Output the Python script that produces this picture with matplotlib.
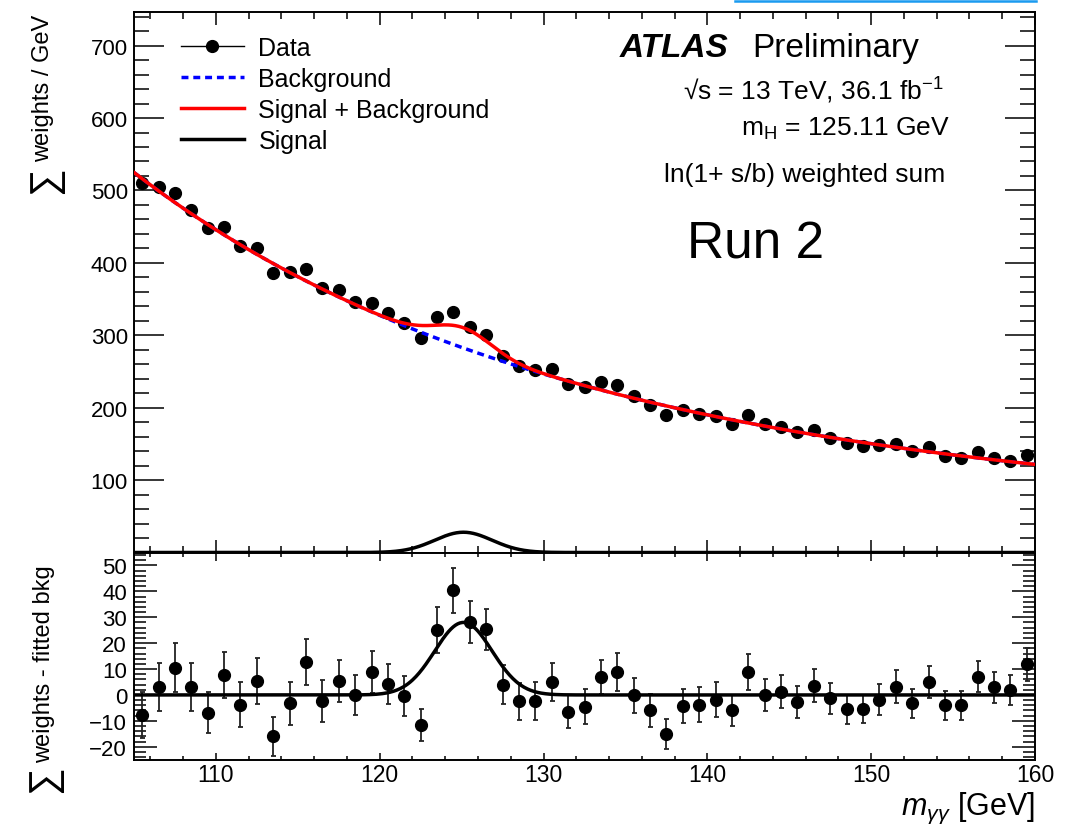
import numpy as np
import matplotlib
matplotlib.use("Agg")
import matplotlib.pyplot as plt
from matplotlib.ticker import MultipleLocator
from matplotlib.lines import Line2D

# ---------------- data ----------------
mass_bins = np.arange(105.5, 160.0, 1.0)   # 1 GeV bin centres

data_weights = [510, 505, 496, 473, 448, 450, 423, 420, 386, 387,
                392, 365, 363, 346, 345, 331, 317, 296, 325, 332,
                312, 301, 271, 258, 252, 253, 233, 229, 235, 231,
                216, 204, 190, 197, 191, 188, 178, 190, 177, 174,
                166, 169, 158, 151, 147, 148, 150, 140, 146, 133,
                130, 139, 131, 126, 134]

residuals = [-7.7, 3.1, 10.5, 3.1, -6.8, 7.7, -3.8, 5.4, -16.0, -3.3,
             12.6, -2.4, 5.4, 0.0, 8.8, 4.2, -0.5, -11.7, 25.1, 40.4,
             28.1, 25.4, 4.0, -2.5, -2.2, 4.9, -6.4, -4.5, 6.9, 9.0,
             -0.1, -6.0, -15.1, -4.3, -3.7, -1.8, -6.0, 8.8, -0.1, 1.3,
             -2.7, 3.6, -1.2, -5.6, -5.4, -1.8, 3.2, -3.2, 5.0, -4.0,
             -4.0, 7.1, 3.0, 1.9, 11.8]

residual_err = [9.0, 9.4, 9.4, 9.2, 8.0, 9.0, 8.7, 8.8, 7.5, 8.3,
                8.9, 8.0, 8.1, 7.8, 8.0, 7.8, 7.8, 6.2, 8.8, 8.7,
                8.2, 7.9, 7.4, 7.1, 7.3, 7.4, 6.3, 6.9, 6.7, 7.3,
                6.7, 6.3, 5.8, 6.7, 6.7, 6.7, 6.0, 6.9, 6.2, 6.3,
                6.3, 6.5, 6.0, 5.5, 5.5, 6.0, 6.3, 5.6, 6.2, 5.5,
                5.6, 6.1, 6.0, 5.9, 6.3]

# fitted model parameters: ln(bkg) = p0 + p1*(m-105) + p2*(m-105)^2 ; signal Gaussian
bkg_p0, bkg_p1, bkg_p2 = 6.263, -0.03327, 0.0001217
sig_amp, sig_mean, sig_sigma = 28.0, 125.11, 1.75

legend_labels = ["Data", "Background", "Signal + Background", "Signal"]

# ---------------- style ----------------
plt.rcParams["font.family"] = ["Liberation Sans", "DejaVu Sans"]
plt.rcParams["mathtext.fontset"] = "custom"
plt.rcParams["mathtext.rm"] = "Liberation Sans"
plt.rcParams["mathtext.it"] = "Liberation Sans:italic"
plt.rcParams["mathtext.bf"] = "Liberation Sans:bold"
plt.rcParams["axes.linewidth"] = 1.4

W, H = 1077, 828
def fx(x):
    return x / W
def fy(y):
    return 1 - y / H

fig = plt.figure(figsize=(W / 100, H / 100), dpi=100)
L, R = 134, 1035
T1, B1, B2 = 13.3, 553.5, 760.7
ax1 = fig.add_axes([fx(L), fy(B1), fx(R) - fx(L), fy(T1) - fy(B1)])
ax2 = fig.add_axes([fx(L), fy(B2), fx(R) - fx(L), fy(B1) - fy(B2)])

m = np.linspace(105, 160, 800)
bkg = np.exp(bkg_p0 + bkg_p1 * (m - 105) + bkg_p2 * (m - 105) ** 2)
sig = sig_amp * np.exp(-0.5 * ((m - sig_mean) / sig_sigma) ** 2)

MS = 8.5
LW = 2.5
dash = (0, (2, 1.4))
ax1.plot(mass_bins, data_weights, "o", color="black", ms=MS, zorder=3)
ax1.plot(m, bkg, color="blue", lw=LW, ls=dash, zorder=4)
ax1.plot(m, bkg + sig, color="red", lw=LW, zorder=5)
ax1.plot(m, sig, color="black", lw=LW, zorder=5)

ax1.set_xlim(105, 160)
ax1.set_ylim(0, 746)
ax1.set_yticks(range(0, 701, 100))
ax1.set_yticklabels([""] + [str(v) for v in range(100, 701, 100)])
ax1.yaxis.set_minor_locator(MultipleLocator(20))
ax1.xaxis.set_major_locator(MultipleLocator(10))
ax1.xaxis.set_minor_locator(MultipleLocator(2))
ax1.tick_params(axis="both", which="both", direction="in", top=True, right=True, width=1.1)
ax1.tick_params(axis="y", which="major", length=21.6, labelsize=16, pad=4.5)
ax1.tick_params(axis="y", which="minor", length=10.8)
ax1.tick_params(axis="x", which="major", length=9.4, labelbottom=False)
ax1.tick_params(axis="x", which="minor", length=4.8)

handles = [Line2D([], [], color="black", marker="o", ms=MS, lw=1.0),
           Line2D([], [], color="blue", lw=LW, ls=dash),
           Line2D([], [], color="red", lw=LW),
           Line2D([], [], color="black", lw=LW)]
ax1.legend(handles, legend_labels, loc="upper left",
           bbox_to_anchor=((181 - L) / (R - L), (B1 - 37) / (B1 - T1)),
           frameon=False, fontsize=18, borderpad=0, borderaxespad=0,
           handlelength=2.5, handletextpad=0.6, labelspacing=0.275)

# lower panel
ax2.errorbar(mass_bins, residuals, yerr=residual_err, fmt="o", color="black", ms=MS,
             ecolor="#222222", elinewidth=1.3, capsize=1.8, capthick=1.3, zorder=3)
ax2.plot(m, sig, color="black", lw=LW, zorder=4)
ax2.set_xlim(105, 160)
ax2.set_ylim(-25, 55)
ax2.yaxis.set_major_locator(MultipleLocator(10))
ax2.yaxis.set_minor_locator(MultipleLocator(2))
ax2.xaxis.set_major_locator(MultipleLocator(10))
ax2.xaxis.set_minor_locator(MultipleLocator(2))
ax2.tick_params(axis="both", which="both", direction="in", top=True, right=True, width=1.1)
ax2.tick_params(axis="y", which="major", length=16.6, labelsize=16, pad=5)
ax2.tick_params(axis="y", which="minor", length=8.3)
ax2.tick_params(axis="x", which="major", length=5.4, labelsize=16.5, pad=2.6)
ax2.tick_params(axis="x", which="minor", length=2.9)

# labels
fig.text(fx(1035), fy(815), r"$m_{\gamma\gamma}$ [GeV]", ha="right", va="baseline", fontsize=22)
fig.text(fx(43), fy(15), "weights / GeV", rotation=90, ha="center", va="top", fontsize=17)
fig.text(fx(45), fy(180), "\u2211", rotation=90, ha="center", va="center", fontsize=28)
fig.text(fx(44), fy(565), "weights - fitted bkg", rotation=90, ha="center", va="top", fontsize=17)
fig.text(fx(44), fy(779), "\u2211", rotation=90, ha="center", va="center", fontsize=28)

# annotations
fig.text(fx(620), fy(57.3), "ATLAS", fontweight="bold", fontstyle="italic", fontsize=24,
         ha="left", va="baseline")
fig.text(fx(752), fy(57.3), "Preliminary", fontsize=24, ha="left", va="baseline")
fig.text(fx(943), fy(100), "\u221as = 13 TeV, 36.1 fb$^{-1}$", fontsize=19, ha="right", va="baseline")
fig.text(fx(950), fy(136), "m$_{\\mathregular{H}}$ = 125.11 GeV", fontsize=19, ha="right", va="baseline")
fig.text(fx(945), fy(181.7), "ln(1+ s/b) weighted sum", fontsize=19, ha="right", va="baseline")
fig.text(fx(686.7), fy(258.3), "Run 2", fontsize=37, ha="left", va="baseline")

fig.add_artist(Line2D([fx(735), fx(1036)], [fy(2), fy(2)], transform=fig.transFigure,
                      color="#1a9bf0", lw=1.8))

fig.savefig("out.png", dpi=100)
